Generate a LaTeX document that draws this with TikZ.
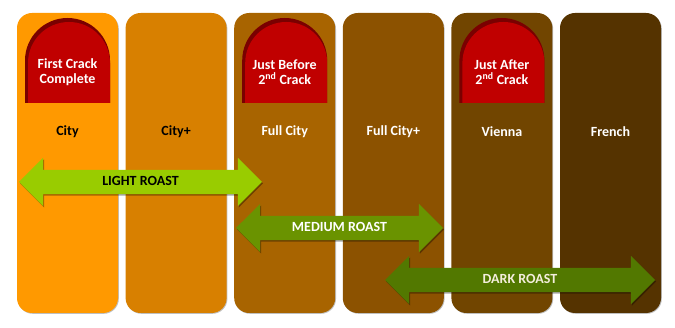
\documentclass[tikz,border=0pt]{standalone}
\usepackage{fontspec}
\setmainfont{Carlito}
\usetikzlibrary{shapes.arrows,shadows}
\definecolor{roast1}{HTML}{FF9900}
\definecolor{roast2}{HTML}{D88000}
\definecolor{roast3}{HTML}{A86400}
\definecolor{roast4}{HTML}{8C5200}
\definecolor{roast5}{HTML}{714500}
\definecolor{roast6}{HTML}{553300}
\definecolor{crackred}{HTML}{C00000}
\definecolor{crackdark}{HTML}{7A0000}
\definecolor{lightgr}{HTML}{99CC00}
\definecolor{medgr}{HTML}{6A9300}
\definecolor{darkgr}{HTML}{527800}
\definecolor{darktxt}{HTML}{F4EEDC}
\tikzset{
  roastcol/.style = {rounded corners=15pt, minimum width=101pt, minimum height=300pt,
                     inner sep=0pt, drop shadow={shadow xshift=0.8pt, shadow yshift=-0.8pt,
                     opacity=0.25, fill=black}},
  collabel/.style = {font=\fontsize{14pt}{14pt}\selectfont\bfseries, inner sep=1pt},
  cracktxt/.style = {text=white, align=center, inner sep=1pt,
                     font=\fontsize{14pt}{15.5pt}\selectfont\bfseries},
  roastarr/.style = {double arrow, double arrow head extend=12pt, double arrow tip angle=90,
                     inner xsep=0pt, inner ysep=7pt, text height=9pt, text depth=1pt,
                     font=\fontsize{14pt}{14pt}\selectfont\bfseries,
                     drop shadow={shadow xshift=1pt, shadow yshift=-1.5pt,
                     opacity=0.35, fill=black}}
}
\begin{document}
\begin{tikzpicture}[x=1pt,y=-1pt]
  \useasboundingbox (0,0) rectangle (675,328);
  % the six roast columns, lightest to darkest
  \foreach \i/\name/\txt in {1/City/black, 2/City+/black, 3/Full City/white,
                              4/Full City+/white, 5/Vienna/white, 6/French/white}
    { \pgfmathsetmacro\cx{67.5+108.6*(\i-1)}
      \node[roastcol,fill=roast\i] (col\i) at (\cx,163) {};
      \node[collabel,text=\txt] (lab\i) at (\cx,132) {\name}; }
  % red caps marking the cracks (y runs downwards, so the arch goes 180 -> 360)
  \foreach \i/\cap in {1/{First Crack\\Complete}, 3/{Just Before\\2\textsuperscript{nd} Crack},
                       5/{Just After\\2\textsuperscript{nd} Crack}}
    { \pgfmathsetmacro\cx{67.5+108.6*(\i-1)}
      \fill[crackdark] (\cx-42.5,103) -- (\cx-42.5,60.5)
                       arc[start angle=180,end angle=360,radius=42.5] -- (\cx+42.5,103) -- cycle;
      \fill[crackred]  (\cx-39.5,103) -- (\cx-39.5,63)
                       arc[start angle=180,end angle=360,radius=41] -- (\cx+42.5,103) -- cycle;
      \node[cracktxt] (crack\i) at (\cx,72) {\cap}; }
  % roast ranges
  \node[roastarr,fill=lightgr,text=black,minimum height=243pt] (light) at (140.5,182) {LIGHT ROAST};
  \node[roastarr,fill=medgr,text=white,minimum height=207pt] (medium) at (339.5,228) {MEDIUM ROAST};
  \node[roastarr,fill=darkgr,text=darktxt,minimum height=270pt] (dark) at (520,280) {DARK ROAST};
\end{tikzpicture}
\end{document}
